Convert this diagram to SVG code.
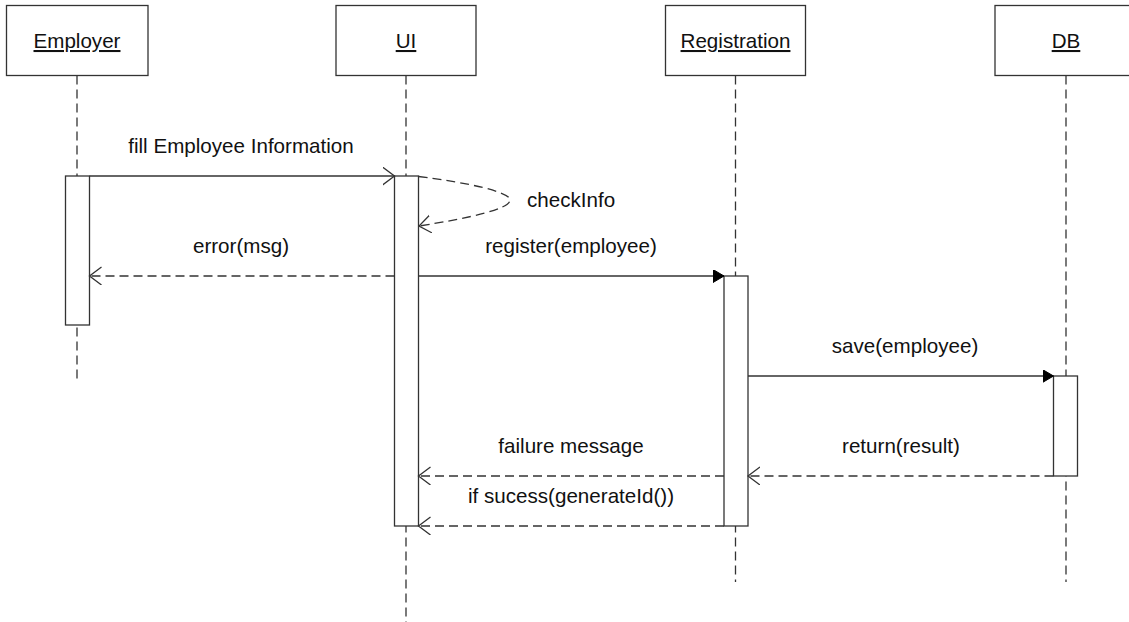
<svg xmlns="http://www.w3.org/2000/svg" width="1129" height="622" viewBox="0 0 1129 622">
<style>
.box{fill:#fff;stroke:#333;stroke-width:1.3}
.act{fill:#fff;stroke:#333;stroke-width:1.3}
.life{stroke:#333;stroke-width:1.3;stroke-dasharray:9 5;fill:none}
.msg{stroke:#333;stroke-width:1.3;fill:none}
.ret{stroke:#333;stroke-width:1.3;fill:none;stroke-dasharray:9 5}
.t{font-family:"Liberation Sans",Arial,sans-serif;font-size:20.6px;fill:#111}
.u{text-decoration:underline}
</style>
<defs>
<marker id="open" markerWidth="14" markerHeight="20" refX="12" refY="9" orient="auto" markerUnits="userSpaceOnUse">
<path d="M0,0 L12,9 L0,18" fill="none" stroke="#333" stroke-width="1.3"/>
</marker>
<marker id="fill" markerWidth="14" markerHeight="14" refX="11" refY="6.5" orient="auto" markerUnits="userSpaceOnUse">
<path d="M0,0 L11,6.5 L0,13 Z" fill="#000" stroke="#000" stroke-width="1"/>
</marker>
</defs>
<g id="employer">
<line class="life" x1="77" y1="75.5" x2="77" y2="380"/>
<rect class="box" x="6.5" y="5.5" width="141.5" height="70"/>
<text class="t u" x="77" y="48" text-anchor="middle">Employer</text>
<rect class="act" x="65.5" y="176" width="24" height="149"/>
</g>
<g id="ui">
<line class="life" x1="406" y1="75.5" x2="406" y2="622"/>
<rect class="box" x="336" y="5.5" width="140" height="70"/>
<text class="t u" x="406" y="48" text-anchor="middle">UI</text>
<rect class="act" x="394.5" y="176" width="24" height="350"/>
</g>
<g id="registration">
<line class="life" x1="735.5" y1="75.5" x2="735.5" y2="582"/>
<rect class="box" x="665.5" y="5.5" width="140" height="70"/>
<text class="t u" x="735.5" y="48" text-anchor="middle">Registration</text>
<rect class="act" x="724" y="276" width="24" height="250"/>
</g>
<g id="db">
<line class="life" x1="1066" y1="75.5" x2="1066" y2="582"/>
<rect class="box" x="995" y="5.5" width="141" height="70"/>
<text class="t u" x="1066" y="48" text-anchor="middle">DB</text>
<rect class="act" x="1053.5" y="376" width="24" height="100"/>
</g>
<g id="connectors">
<line class="msg" x1="89.5" y1="176" x2="394.5" y2="176" marker-end="url(#open)"/>
<text class="t" x="241" y="153" text-anchor="middle">fill Employee Information</text>
<path class="ret" d="M418.5,176.5 C470,183 510,192 510,200 C510,209 470,218 419,226" marker-end="url(#open)"/>
<text class="t" x="527" y="207">checkInfo</text>
<line class="ret" x1="394.5" y1="276" x2="89.5" y2="276" marker-end="url(#open)"/>
<text class="t" x="241" y="253" text-anchor="middle">error(msg)</text>
<line class="msg" x1="418.5" y1="276" x2="724" y2="276" marker-end="url(#fill)"/>
<text class="t" x="571" y="253" text-anchor="middle">register(employee)</text>
<line class="msg" x1="748" y1="376" x2="1053.5" y2="376" marker-end="url(#fill)"/>
<text class="t" x="905" y="353" text-anchor="middle">save(employee)</text>
<line class="ret" x1="1053.5" y1="476" x2="748" y2="476" marker-end="url(#open)"/>
<text class="t" x="901" y="453" text-anchor="middle">return(result)</text>
<line class="ret" x1="724" y1="476" x2="418.5" y2="476" marker-end="url(#open)"/>
<text class="t" x="571" y="453" text-anchor="middle">failure message</text>
<line class="ret" x1="724" y1="526" x2="418.5" y2="526" marker-end="url(#open)"/>
<text class="t" x="571" y="503" text-anchor="middle">if sucess(generateId())</text>
</g>
</svg>
